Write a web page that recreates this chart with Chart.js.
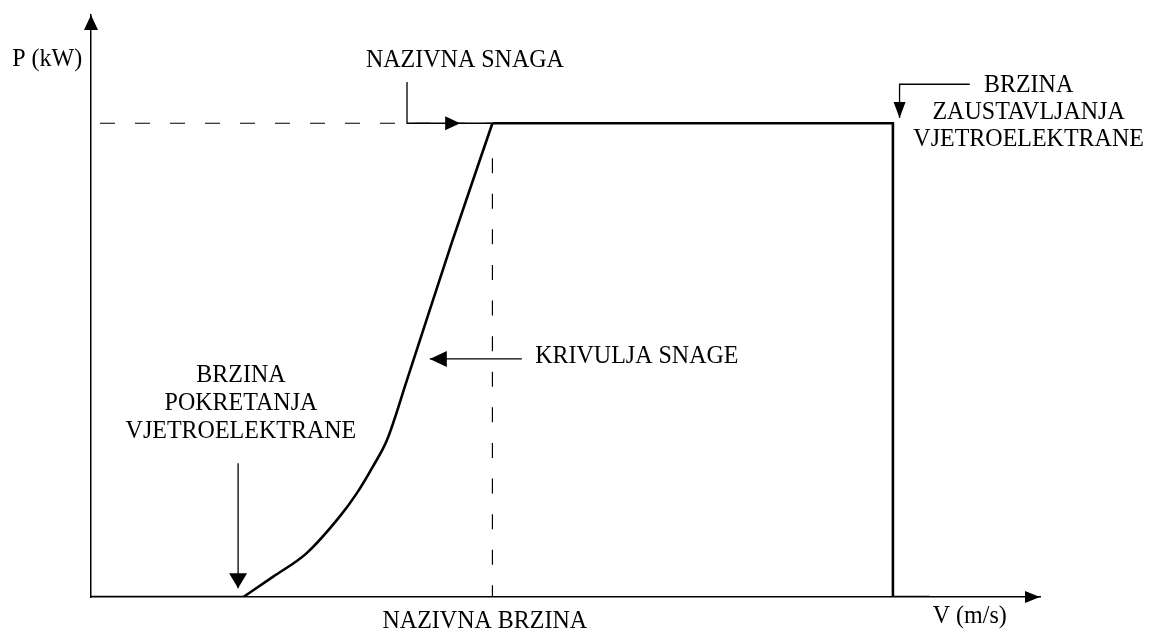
<!DOCTYPE html>
<html>
<head>
<meta charset="utf-8">
<script src="https://cdn.jsdelivr.net/npm/chart.js@4.4.0/dist/chart.umd.min.js"></script>
<style>
  html, body { margin: 0; padding: 0; background: #fff; }
  #okvir { width: 1155px; height: 633px; }
</style>
</head>
<body>
<div id="okvir"><canvas id="krivuljaSnage" width="1155" height="633"></canvas></div>
<script>
// brzina vjetra i snaga u relativnim jedinicama (0-100), ocitano sa slike
const brzinaMirovanje = [0, 16.05];
const snagaMirovanje = [0, 0];

const brzinaPorast = [16.05, 19.2, 22.7, 26.2, 28.0, 29.7, 31.2, 33.3, 38.0, 42.3];
const snagaPorast = [0, 3.5, 7.5, 13.8, 17.8, 22.4, 27.0, 37.3, 60.8, 81.4];

const brzinaNazivnaSnaga = [42.3, 84.5, 84.5, 88.4];
const snagaNazivnaSnaga = [81.4, 81.4, 0, 0];

const nazivnaBrzina = 42.3;
const nazivnaSnaga = 81.4;
const brzinaPokretanja = 15.5;
const brzinaZaustavljanja = 85.2;

const tocke = (xs, ys) => xs.map((x, i) => ({ x: x, y: ys[i] }));

const FONT = '25px "Liberation Serif", "Times New Roman", serif';

function glava(ctx, x, y, kut, duz, sir) {
  ctx.beginPath();
  ctx.moveTo(x, y);
  ctx.lineTo(x - duz * Math.cos(kut) + sir * Math.sin(kut), y - duz * Math.sin(kut) - sir * Math.cos(kut));
  ctx.lineTo(x - duz * Math.cos(kut) - sir * Math.sin(kut), y - duz * Math.sin(kut) + sir * Math.cos(kut));
  ctx.closePath();
  ctx.fill();
}

function linija(ctx, pts) {
  ctx.beginPath();
  ctx.moveTo(pts[0][0], pts[0][1]);
  for (let i = 1; i < pts.length; i++) ctx.lineTo(pts[i][0], pts[i][1]);
  ctx.stroke();
}

function tekst(ctx, s, x, y, poravnanje) {
  ctx.save();
  ctx.translate(x, y);
  ctx.scale(0.96, 1);
  ctx.textAlign = poravnanje;
  ctx.fillText(s, 0, 0);
  ctx.restore();
}

const oznake = {
  id: 'oznake',
  afterDraw(chart) {
    const ctx = chart.ctx;
    const sx = chart.scales.x, sy = chart.scales.y;
    const X = v => sx.getPixelForValue(v);
    const Y = v => sy.getPixelForValue(v);
    const ca = chart.chartArea;

    ctx.save();
    ctx.fillStyle = '#000';
    ctx.strokeStyle = '#000';

    // strelice na osima
    glava(ctx, ca.left, ca.top, -Math.PI / 2, 15, 7);
    glava(ctx, ca.right, ca.bottom, 0, 15, 6);

    ctx.lineWidth = 1.3;

    // nazivna snaga
    linija(ctx, [[X(33.3), Y(88.5)], [X(33.3), Y(nazivnaSnaga)], [X(nazivnaBrzina), Y(nazivnaSnaga)]]);
    glava(ctx, X(38.9), Y(nazivnaSnaga), 0, 15, 7);

    // brzina zaustavljanja
    linija(ctx, [[X(92.6), Y(88.1)], [X(brzinaZaustavljanja), Y(88.1)], [X(brzinaZaustavljanja), Y(82.3)]]);
    glava(ctx, X(brzinaZaustavljanja), Y(82.3), Math.PI / 2, 16, 6);

    // brzina pokretanja
    linija(ctx, [[X(brzinaPokretanja), Y(23.0)], [X(brzinaPokretanja), Y(1.5)]]);
    glava(ctx, X(brzinaPokretanja), Y(1.5), Math.PI / 2, 15, 9);

    // krivulja snage
    linija(ctx, [[X(45.4), Y(40.9)], [X(35.7), Y(40.9)]]);
    glava(ctx, X(35.7), Y(40.9), Math.PI, 17, 8);

    // tekstovi
    ctx.font = FONT;
    ctx.textBaseline = 'alphabetic';
    tekst(ctx, 'P (kW)', X(-8.3), Y(91.2), 'left');
    tekst(ctx, 'V (m/s)', X(88.7), Y(-4.5), 'left');
    tekst(ctx, 'KRIVULJA SNAGE', X(46.8), Y(40.2), 'left');

    tekst(ctx, 'NAZIVNA SNAGA', X(39.4), Y(91.1), 'center');
    tekst(ctx, 'NAZIVNA BRZINA', X(41.5), Y(-5.3), 'center');

    tekst(ctx, 'BRZINA', X(98.8), Y(86.8), 'center');
    tekst(ctx, 'ZAUSTAVLJANJA', X(98.8), Y(82.1), 'center');
    tekst(ctx, 'VJETROELEKTRANE', X(98.8), Y(77.5), 'center');

    tekst(ctx, 'BRZINA', X(15.8), Y(36.9), 'center');
    tekst(ctx, 'POKRETANJA', X(15.8), Y(32.1), 'center');
    tekst(ctx, 'VJETROELEKTRANE', X(15.8), Y(27.3), 'center');
    ctx.restore();
  }
};

const osa = {
  type: 'linear',
  min: 0,
  max: 100,
  ticks: { display: false },
  grid: { display: false, drawTicks: false },
  border: { display: true, color: '#000', width: 1.5 }
};

const puna = { showLine: true, borderColor: '#000', borderWidth: 2.6, pointRadius: 0, order: 1 };

new Chart(document.getElementById('krivuljaSnage'), {
  type: 'scatter',
  data: {
    datasets: [
      Object.assign({ label: 'porast', data: tocke(brzinaPorast, snagaPorast), cubicInterpolationMode: 'monotone' }, puna),
      Object.assign({ label: 'mirovanje', data: tocke(brzinaMirovanje, snagaMirovanje) }, puna),
      Object.assign({ label: 'nazivna snaga', data: tocke(brzinaNazivnaSnaga, snagaNazivnaSnaga), borderJoinStyle: 'miter' }, puna),
      {
        label: 'nazivna snaga - pomocna',
        data: [{ x: 0, y: nazivnaSnaga }, { x: nazivnaBrzina, y: nazivnaSnaga }],
        showLine: true,
        borderColor: '#000',
        borderWidth: 1.2,
        borderDash: [15, 20],
        borderDashOffset: 26,
        pointRadius: 0,
        order: 2
      },
      {
        label: 'nazivna brzina - pomocna',
        data: [{ x: nazivnaBrzina, y: 75.4 }, { x: nazivnaBrzina, y: 0 }],
        showLine: true,
        borderColor: '#000',
        borderWidth: 1.2,
        borderDash: [15, 20.6],
        pointRadius: 0,
        order: 2
      }
    ]
  },
  options: {
    responsive: false,
    animation: false,
    events: [],
    layout: { padding: { left: 91, top: 15, right: 115, bottom: 36 } },
    plugins: {
      legend: { display: false },
      tooltip: { enabled: false },
      title: { display: false }
    },
    scales: { x: osa, y: osa }
  },
  plugins: [oznake]
});
</script>
</body>
</html>
